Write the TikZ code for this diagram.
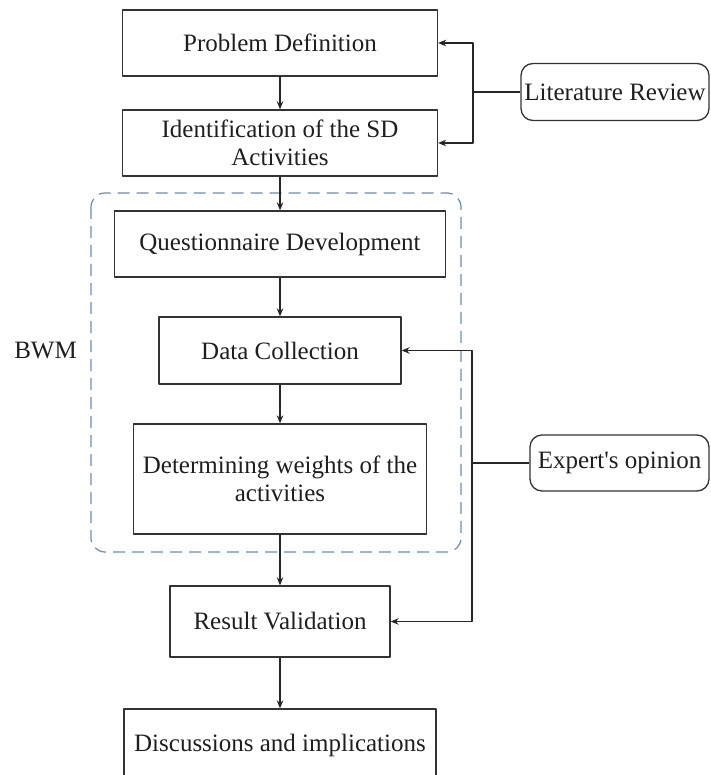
\documentclass[tikz,border=0pt]{standalone}
\usepackage{fontspec}
\setmainfont{Liberation Serif}
\usetikzlibrary{arrows.meta}
\definecolor{bwmblue}{RGB}{104,142,180}
\begin{document}
\begin{tikzpicture}[x=1pt, y=-1pt, line join=round, >={Stealth[length=8pt,width=6.5pt]},
    font=\fontsize{25}{28}\selectfont, text=black!88,
    box/.style={draw=black!80, line width=1.3pt, inner sep=0pt, align=center},
    sidebox/.style={box, rounded corners=12pt},
    link/.style={draw=black!85, line width=1.2pt}]
    \useasboundingbox (0,0) rectangle (710,775);
    % main flow
    \node[box, minimum width=315pt, minimum height=66pt] (prob) at (280,43) {Problem Definition};
    \node[box, minimum width=315pt, minimum height=66pt] (ident) at (280,143) {Identification of the SD\\Activities};
    \node[box, minimum width=331pt, minimum height=66pt] (quest) at (280,244) {Questionnaire Development};
    \node[box, minimum width=242pt, minimum height=67pt] (data) at (280,350.5) {Data Collection};
    \node[box, minimum width=293pt, minimum height=110pt] (weights) at (280,479) {Determining weights of the\\activities};
    \node[box, minimum width=220pt, minimum height=71pt] (valid) at (280,621.5) {Result Validation};
    \node[box, minimum width=312pt, minimum height=72pt] (disc) at (280,745) {Discussions and implications};
    % inputs
    \node[sidebox, minimum width=188pt, minimum height=57pt] (lit) at (615,92) {Literature Review};
    \node[sidebox, minimum width=179pt, minimum height=56pt] (expert) at (619.5,463) {Expert\textquotesingle s opinion};
    \node (bwm) at (45.5,351) {BWM};
    \draw[bwmblue, line width=1.2pt, dash pattern=on 12pt off 7pt, rounded corners=14pt] (91,193) rectangle (461,552);
    \draw[link,->] (prob) -- (ident);
    \draw[link,->] (ident) -- (quest);
    \draw[link,->] (quest) -- (data);
    \draw[link,->] (data) -- (weights);
    \draw[link,->] (weights) -- (valid);
    \draw[link,->] (valid) -- (disc);
    \coordinate (litjoin) at (473,92);
    \draw[link] (lit) -- (litjoin);
    \draw[link,->] (litjoin) |- (prob);
    \draw[link,->] (litjoin) |- (ident);
    \coordinate (expjoin) at (472,463);
    \draw[link] (expert) -- (expjoin);
    \draw[link,->] (expjoin) |- (data);
    \draw[link,->] (expjoin) |- (valid);
\end{tikzpicture}
\end{document}
